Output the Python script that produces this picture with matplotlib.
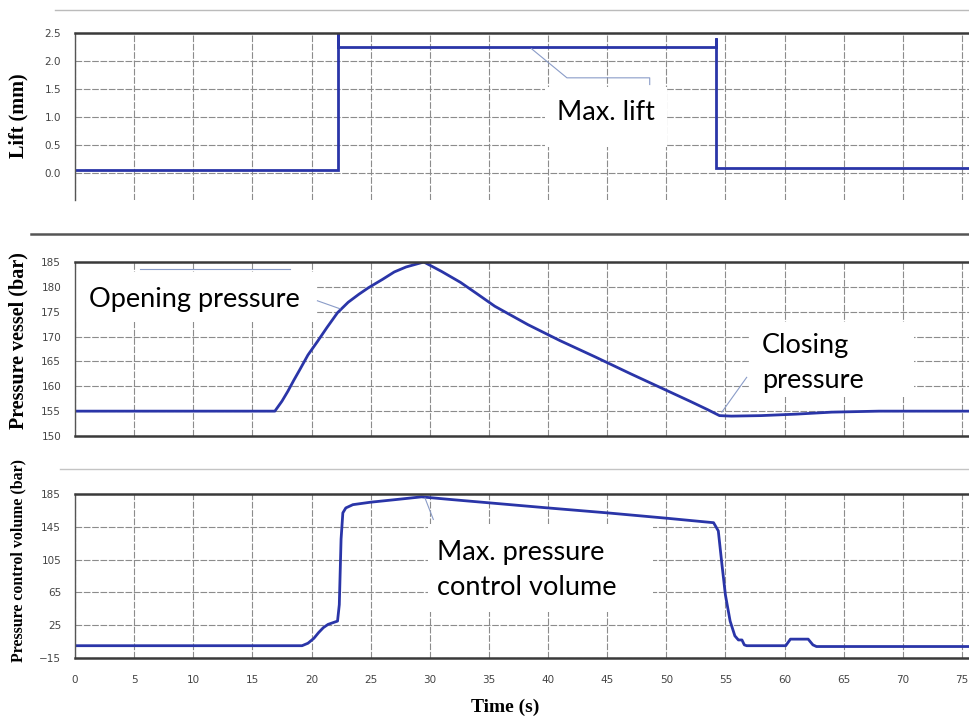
import matplotlib
matplotlib.use('Agg')
import matplotlib.pyplot as plt
from matplotlib.patches import Rectangle
from matplotlib.lines import Line2D

# ---- data ----
lift_t = [0, 22.25, 22.25, 22.25, 54.2, 54.2, 54.2, 75.6]
lift_mm = [0.06, 0.06, 2.5, 2.25, 2.25, 2.41, 0.09, 0.09]

vessel_t = [0, 16.9, 17.5, 18.0, 18.5, 19.0, 19.7, 20.5, 21.3, 22.2, 23.1, 24.0, 24.8,
            26.0, 27.0, 28.0, 29.2, 29.5, 31.0, 32.6, 34.0, 35.5, 38.3, 41.0, 44.0,
            47.0, 50.0, 52.0, 53.5, 54.5, 55.5, 58.0, 61.0, 64.0, 68.0, 75.6]
vessel_bar = [155, 155, 157, 159, 161.2, 163.3, 166.3, 169.0, 171.8, 174.8, 176.9, 178.5,
              179.8, 181.5, 183.0, 184.0, 184.8, 185.0, 183.1, 180.9, 178.6, 176.1, 172.4,
              169.2, 165.9, 162.5, 159.2, 157.0, 155.3, 154.1, 154.0, 154.1, 154.4, 154.8,
              155.0, 155.0]

ctrl_t = [0, 19.2, 19.7, 20.2, 20.6, 21.0, 21.4, 21.8, 22.2, 22.35, 22.5, 22.65, 22.9,
          23.5, 25.0, 27.0, 29.3, 32.0, 36.0, 40.0, 45.0, 50.0, 54.0, 54.4, 54.7, 55.0,
          55.4, 55.8, 56.1, 56.4, 56.6, 56.8, 60.1, 60.5, 62.0, 62.4, 62.7, 75.6]
ctrl_bar = [0, 0, 3, 9, 16, 22, 26, 28, 30, 50, 130, 162, 168, 172, 175, 178, 181.5,
            178, 173, 168, 162, 155.5, 150, 140, 100, 62, 30, 12, 7, 7, 1, 0, 0, 8, 8,
            1, -1, -1]

x_ticks = list(range(0, 80, 5))
lift_ticks = [0.0, 0.5, 1.0, 1.5, 2.0, 2.5]
vessel_ticks = [150, 155, 160, 165, 170, 175, 180, 185]
ctrl_ticks = [-15, 25, 65, 105, 145, 185]

W, H = 969, 717
LINE = '#2a35a8'
GRID = '#8c8c8c'


def fig_box(px_left, px_top, px_w, px_h):
    return [px_left / W, 1 - (px_top + px_h) / H, px_w / W, px_h / H]


def fx(px):
    return px / W


def fy(py):
    return 1 - py / H


fig = plt.figure(figsize=(W / 100, H / 100), dpi=100)
fig.patch.set_facecolor('white')

ax1 = fig.add_axes(fig_box(75, 33, 894, 167))
ax2 = fig.add_axes(fig_box(75, 262, 894, 174))
ax3 = fig.add_axes(fig_box(75, 494, 894, 164))

for ax in (ax1, ax2, ax3):
    ax.set_xlim(0, 75.6)
    ax.set_xticks(x_ticks)
    ax.set_axisbelow(True)
    ax.grid(True, color=GRID, lw=0.8, ls=(0, (6, 1.5)))
    ax.spines['right'].set_visible(False)
    ax.spines['top'].set_color('#3a3a3a')
    ax.spines['top'].set_linewidth(1.8)
    ax.spines['bottom'].set_color('#3a3a3a')
    ax.spines['bottom'].set_linewidth(1.8)
    ax.spines['left'].set_color('#555555')
    ax.spines['left'].set_linewidth(1.0)
    ax.tick_params(length=0, labelsize=7.5, labelcolor='#444444', pad=10)

ax1.plot(lift_t, lift_mm, color=LINE, lw=2.0, solid_joinstyle='miter')
ax1.set_ylim(-0.48, 2.5)
ax1.set_yticks(lift_ticks)
ax1.set_yticklabels([f'{v:.1f}' for v in lift_ticks])
ax1.spines['bottom'].set_visible(False)
ax1.tick_params(axis='x', labelbottom=False)

ax2.plot(vessel_t, vessel_bar, color=LINE, lw=2.0)
ax2.set_ylim(150, 185)
ax2.set_yticks(vessel_ticks)
ax2.tick_params(axis='x', labelbottom=False)

ax3.plot(ctrl_t, ctrl_bar, color=LINE, lw=2.0)
ax3.set_ylim(-15, 185)
ax3.set_yticks(ctrl_ticks)
ax3.tick_params(axis='x', pad=12)

# white callout boxes (cover the grid, not the curves)
boxes = [(ax1, 545, 87, 122, 60), (ax2, 76, 272, 240, 50),
         (ax2, 749, 322, 165, 75), (ax3, 428, 524, 225, 88)]
for ax, l, t, w, h in boxes:
    ax.add_patch(Rectangle((fx(l), fy(t + h)), w / W, h / H, transform=fig.transFigure,
                           facecolor='white', edgecolor='none', zorder=1))

ann_font = dict(family='Lato', fontsize=19.5, color='black')
fig.text(fx(557), fy(120), 'Max. lift', va='baseline', **ann_font)
fig.text(fx(89), fy(307), 'Opening pressure', va='baseline', **ann_font)
fig.text(fx(762), fy(353), 'Closing', va='baseline', **ann_font)
fig.text(fx(762), fy(388), 'pressure', va='baseline', **ann_font)
fig.text(fx(437), fy(560), 'Max. pressure', va='baseline', **ann_font)
fig.text(fx(437), fy(595), 'control volume', va='baseline', **ann_font)

# thin callout leaders
lead = dict(color='#8a9cc8', lw=0.8)
ax1.plot([38.6, 41.6, 48.6, 48.6], [2.22, 1.70, 1.70, 1.58], **lead)
ax2.plot([22.4, 20.5], [175.6, 177.2], **lead)
ax2.plot([5.5, 18.2], [183.6, 183.6], **lead)
ax2.plot([54.7, 56.8], [154.8, 161.8], **lead)
ax3.plot([29.6, 30.3], [180, 154], **lead)

# axis titles
serif = dict(family=['Liberation Serif', 'DejaVu Serif'], fontweight='bold', color='black')
fig.text(fx(18), fy(116), 'Lift (mm)', rotation=90, ha='center', va='center', fontsize=14.5, **serif)
fig.text(fx(18), fy(341), 'Pressure vessel (bar)', rotation=90, ha='center', va='center', fontsize=14.5, **serif)
fig.text(fx(18), fy(560), 'Pressure control volume (bar)', rotation=90, ha='center', va='center', fontsize=11.4, **serif)
fig.text(fx(505), fy(707), 'Time (s)', ha='center', va='center', fontsize=14, **serif)

# scan separators between the panels
fig.add_artist(Line2D([fx(55), 1], [fy(10), fy(10)], color='#bbbbbb', lw=1.0))
fig.add_artist(Line2D([fx(31), 1], [fy(234), fy(234)], color='#555555', lw=1.8))
fig.add_artist(Line2D([fx(60), 1], [fy(469), fy(469)], color='#c4c4c4', lw=1.0))

fig.savefig('out.png', dpi=100)
plt.close(fig)
